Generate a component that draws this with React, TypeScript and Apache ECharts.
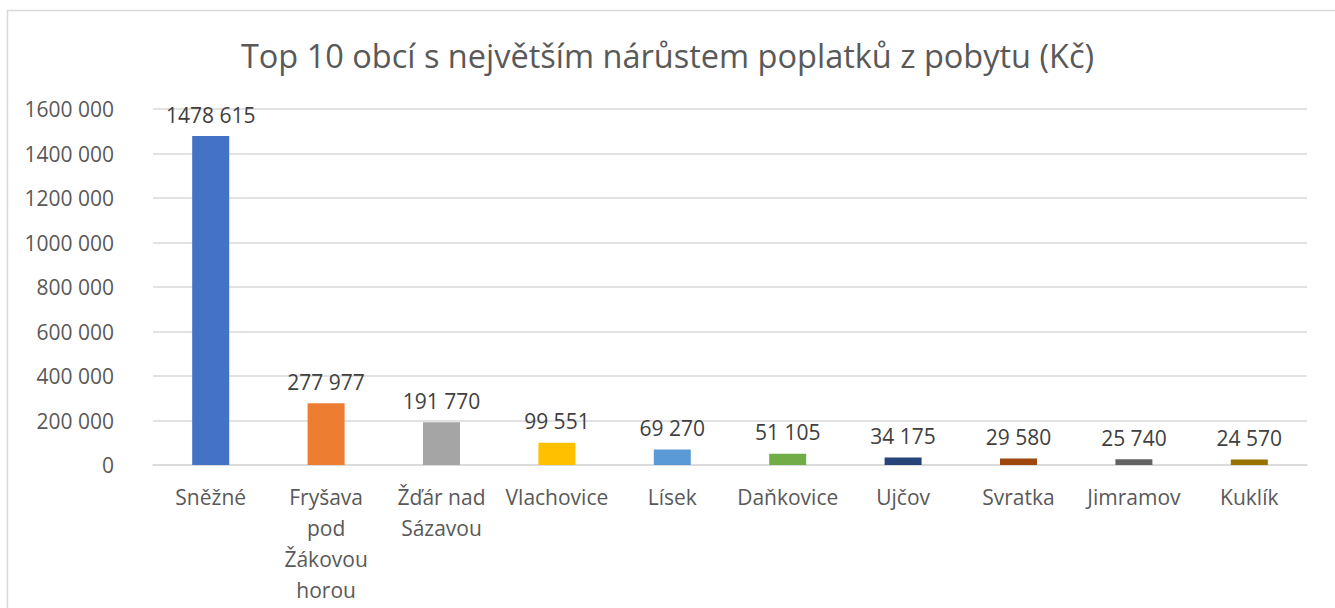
import React, { useEffect, useRef } from "react";
import * as echarts from "echarts";

const titleText = "Top 10 obcí s největším nárůstem poplatků z pobytu (Kč)";
const categories = [
  "Sněžné",
  "Fryšava\npod\nŽákovou\nhorou",
  "Žďár nad\nSázavou",
  "Vlachovice",
  "Lísek",
  "Daňkovice",
  "Ujčov",
  "Svratka",
  "Jimramov",
  "Kuklík",
];
const values = [1478615, 277977, 191770, 99551, 69270, 51105, 34175, 29580, 25740, 24570];
const barColors = [
  "#4472C4", "#ED7D31", "#A5A5A5", "#FFC000", "#5B9BD5",
  "#70AD47", "#264478", "#9E480E", "#636363", "#997300",
];
const yMin = 0;
const yMax = 1600000;
const yStep = 200000;

// Excel "# ##0" style: only the last thousands group is separated
const fmt = (v: number) => {
  const s = String(Math.round(v));
  return s.length > 3 ? s.slice(0, -3) + " " + s.slice(-3) : s;
};

export default function App() {
  const ref = useRef<HTMLDivElement>(null);
  useEffect(() => {
    if (!ref.current) return;
    const chart = echarts.init(ref.current, undefined, { renderer: "svg" });
    const font = "'Open Sans', sans-serif";
    chart.setOption({
      animation: false,
      backgroundColor: "#fff",
      textStyle: { fontFamily: font },
      title: {
        text: titleText,
        left: "center",
        top: 34,
        textStyle: { fontFamily: font, fontSize: 32.5, fontWeight: "normal", color: "#595959" },
      },
      graphic: [
        {
          type: "rect",
          shape: { x: 7.5, y: 10.5, width: 1400, height: 700 },
          style: { fill: "none", stroke: "#D9D9D9", lineWidth: 1.5 },
          silent: true,
        },
      ],
      grid: { left: 153, right: 28, top: 109, bottom: 143, containLabel: false },
      xAxis: {
        type: "category",
        data: categories,
        axisLine: { lineStyle: { color: "#D9D9D9", width: 1.5 } },
        axisTick: { show: false },
        axisLabel: {
          interval: 0,
          color: "#595959",
          fontFamily: font,
          fontSize: 21,
          lineHeight: 31,
          margin: 16,
        },
      },
      yAxis: {
        type: "value",
        min: yMin,
        max: yMax,
        interval: yStep,
        axisLine: { show: false },
        axisTick: { show: false },
        splitLine: { lineStyle: { color: "#D9D9D9", width: 1.5 } },
        axisLabel: {
          color: "#595959",
          fontFamily: font,
          fontSize: 21,
          margin: 39,
          formatter: (v: number) => fmt(v),
        },
      },
      series: [
        {
          type: "bar",
          data: values.map((v, i) => ({ value: v, itemStyle: { color: barColors[i] } })),
          barWidth: 37,
          label: {
            show: true,
            position: "top",
            distance: 11,
            color: "#404040",
            fontFamily: font,
            fontSize: 21,
            formatter: (p: any) => fmt(p.value),
          },
        },
      ],
    });
    return () => chart.dispose();
  }, []);
  return (
    <div
      ref={ref}
      style={{ position: "fixed", left: 0, top: 0, width: 1335, height: 608 }}
    />
  );
}
